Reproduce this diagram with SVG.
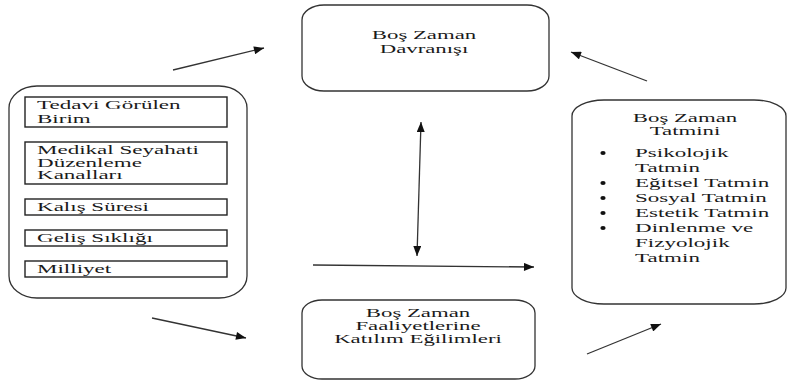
<svg xmlns="http://www.w3.org/2000/svg" width="793" height="383" viewBox="0 0 793 383">
<defs>
<style>
.box{fill:#fff;stroke:#333;stroke-width:1.3}
.ibox{fill:#fff;stroke:#222;stroke-width:1.4}
text{font-size:12px;fill:#1a1a1a}
.c{text-anchor:middle}
.ln{stroke:#333;stroke-width:1.3;fill:none}
</style>
<marker id="ah" viewBox="0 0 10 8" refX="10" refY="4" markerWidth="11" markerHeight="8" markerUnits="userSpaceOnUse" orient="auto-start-reverse">
<path d="M0,0 L10,4 L0,8 z" fill="#111"/>
</marker>
</defs>
<rect width="793" height="383" fill="#fff"/>

<g id="connectors">
<line class="ln" x1="173" y1="70" x2="264" y2="48" marker-end="url(#ah)"/>
<line class="ln" x1="152" y1="318" x2="246" y2="338" marker-end="url(#ah)"/>
<line class="ln" x1="647" y1="81" x2="571" y2="52" marker-end="url(#ah)"/>
<line class="ln" x1="587" y1="354" x2="661" y2="324" marker-end="url(#ah)"/>
<line class="ln" x1="421" y1="122" x2="417" y2="256" marker-start="url(#ah)" marker-end="url(#ah)"/>
<line class="ln" x1="313" y1="265" x2="534" y2="267" marker-end="url(#ah)"/>
</g>

<g id="node-left" font-family="Times New Roman, Liberation Serif, DejaVu Serif, serif">
<rect class="box" x="9" y="86" width="238" height="212" rx="28" ry="22"/>
<rect class="ibox" x="25" y="97" width="202" height="30"/>
<text transform="translate(37 109) scale(1.92 1)">Tedavi Görülen</text>
<text transform="translate(37 123) scale(1.92 1)">Birim</text>
<rect class="ibox" x="25" y="142" width="202" height="42"/>
<text transform="translate(37 154) scale(1.92 1)">Medikal Seyahati</text>
<text transform="translate(37 166.5) scale(1.92 1)">Düzenleme</text>
<text transform="translate(37 179) scale(1.92 1)">Kanalları</text>
<rect class="ibox" x="25" y="199" width="202" height="16"/>
<text transform="translate(37 211) scale(1.92 1)">Kalış Süresi</text>
<rect class="ibox" x="25" y="230" width="202" height="16"/>
<text transform="translate(37 242) scale(1.92 1)">Geliş Sıklığı</text>
<rect class="ibox" x="25" y="261" width="202" height="16"/>
<text transform="translate(37 273) scale(1.92 1)">Milliyet</text>
</g>

<g id="node-top" font-family="Times New Roman, Liberation Serif, DejaVu Serif, serif">
<rect class="box" x="302" y="5" width="247" height="86" rx="22" ry="15"/>
<text class="c" transform="translate(424 39) scale(1.9 1)">Boş Zaman</text>
<text class="c" transform="translate(424 53) scale(1.9 1)">Davranışı</text>
</g>

<g id="node-bottom" font-family="Times New Roman, Liberation Serif, DejaVu Serif, serif">
<rect class="box" x="302" y="300" width="233" height="79" rx="20" ry="13"/>
<text class="c" transform="translate(418 317) scale(1.9 1)">Boş Zaman</text>
<text class="c" transform="translate(418 330) scale(1.9 1)">Faaliyetlerine</text>
<text class="c" transform="translate(418 343) scale(1.9 1)">Katılım Eğilimleri</text>
</g>

<g id="node-right" font-family="Times New Roman, Liberation Serif, DejaVu Serif, serif">
<rect class="box" x="572" y="100" width="214" height="204" rx="32" ry="16"/>
<text class="c" transform="translate(685 122) scale(1.9 1)">Boş Zaman</text>
<text class="c" transform="translate(685 134.5) scale(1.9 1)">Tatmini</text>
<ellipse cx="603" cy="153" rx="2.6" ry="2" fill="#111"/>
<text transform="translate(635 157) scale(1.92 1)">Psikolojik</text>
<text transform="translate(635 172) scale(1.92 1)">Tatmin</text>
<ellipse cx="603" cy="183" rx="2.6" ry="2" fill="#111"/>
<text transform="translate(635 187) scale(1.92 1)">Eğitsel Tatmin</text>
<ellipse cx="603" cy="198" rx="2.6" ry="2" fill="#111"/>
<text transform="translate(635 202) scale(1.92 1)">Sosyal Tatmin</text>
<ellipse cx="603" cy="213" rx="2.6" ry="2" fill="#111"/>
<text transform="translate(635 217) scale(1.92 1)">Estetik Tatmin</text>
<ellipse cx="603" cy="228" rx="2.6" ry="2" fill="#111"/>
<text transform="translate(635 232) scale(1.92 1)">Dinlenme ve</text>
<text transform="translate(635 247) scale(1.92 1)">Fizyolojik</text>
<text transform="translate(635 262) scale(1.92 1)">Tatmin</text>
</g>
</svg>
